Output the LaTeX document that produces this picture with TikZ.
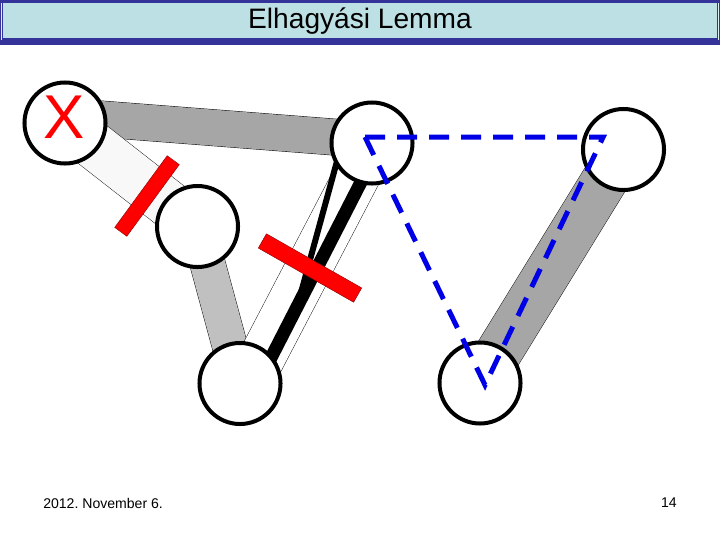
\documentclass[tikz,border=0pt]{standalone}
\usepackage{fontspec}
\setmainfont{Liberation Sans}
\usetikzlibrary{backgrounds}

\definecolor{titleblue}{RGB}{51,51,153}
\definecolor{titlefill}{RGB}{189,224,228}
\definecolor{bandgray}{RGB}{166,166,166}
\definecolor{lightband}{RGB}{192,192,192}
\definecolor{paleband}{RGB}{248,248,248}
\definecolor{walkblue}{RGB}{0,0,230}

\begin{document}
\begin{tikzpicture}[x=0.025cm, y=-0.025cm,
  vertex/.style={circle, draw, line width=0.1cm, fill=white, minimum size=2.025cm, inner sep=0pt},
  band/.style={line width=0.3pt, double=#1},
  cutbar/.style={draw=red!55!black, line width=0.3pt, fill=red, inner sep=0pt},
  walk/.style={walkblue, line width=0.125cm, dash pattern=on 0.5cm off 0.3cm}]
  \useasboundingbox (0,0) rectangle (720,540);

  % Title bar
  \fill[titleblue] (0,0) rectangle (720,45);
  \fill[titlefill] (3,3) rectangle (717,38);
  \draw[titlefill!50!white, line width=0.6pt] (1.5,3) -- (1.5,40) (718.5,3) -- (718.5,40);
  \node[font=\fontsize{20}{24}\selectfont] (title) at (360,21) {Elhagyási Lemma};

  % Vertices
  \node[vertex] (x) at (65,123) {};
  \node[vertex] (b) at (372,143) {};
  \node[vertex] (c) at (623.5,149.5) {};
  \node[vertex] (d) at (197.5,226.5) {};
  \node[vertex] (e) at (240,383.5) {};
  \node[vertex] (f) at (480,383) {};
  \node[red, font=\fontsize{44}{44}\selectfont] (xmark) at (64,117) {X};

  \begin{pgfonlayer}{background}
    % Edges as bands
    \draw[band=bandgray, double distance=0.9cm] ([yshift=0.17cm]x.center) -- ([yshift=0.075cm]b.center);
    \draw[band=paleband, double distance=1.17cm] (x.center) -- (d.center);
    \draw[band=lightband, double distance=0.875cm] (d.center) -- (e.center);
    \draw[band=white, double distance=1.15cm] ([xshift=0.21cm]e.center) -- ([xshift=0.05cm]b.center);
    \draw[band=bandgray, double distance=1.15cm] (c.center) -- (f.center);

    % Parallel edges between e and b
    \coordinate (merge) at (299,300);
    \draw[line width=0.325cm] ([xshift=0.445cm]e.center) -- ([xshift=0.225cm]b.center);
    \draw[line width=0.15cm] (merge) -- ([xshift=-0.75cm]b.center);

    % Deleted edges
    \node[cutbar, minimum width=2.22cm, minimum height=0.375cm, rotate=53.8] (cut1) at (147,196) {};
    \node[cutbar, minimum width=2.74cm, minimum height=0.41cm, rotate=-29.6] (cut2) at (310,268) {};
  \end{pgfonlayer}

  % Walk through b, c, f
  \draw[walk] ([xshift=-0.175cm, yshift=0.15cm]b.center) -- ([xshift=-0.51cm, yshift=0.31cm]c.center)
    -- ([xshift=0.125cm, yshift=-0.05cm]f.center) -- cycle;

  % Footer
  \node[anchor=west, inner sep=0pt, font=\fontsize{10}{12}\selectfont] (date) at (43,503) {2012.\ November 6.};
  \node[anchor=east, inner sep=0pt, font=\fontsize{10}{12}\selectfont] (page) at (677,503) {14};
\end{tikzpicture}
\end{document}
